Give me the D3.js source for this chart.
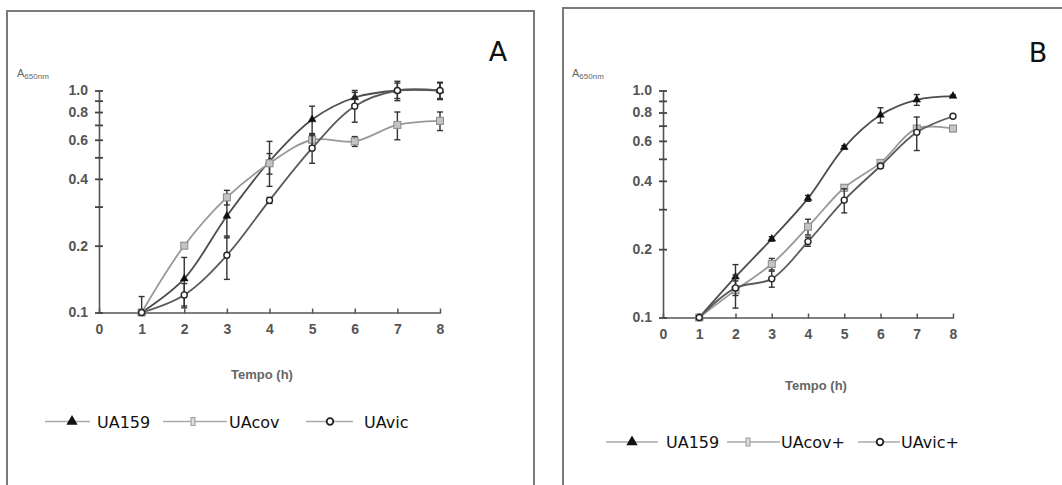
<!DOCTYPE html>
<html>
<head>
<meta charset="utf-8">
<script src="https://cdn.jsdelivr.net/npm/d3@7/dist/d3.min.js"></script>
<style>
  html, body { margin: 0; padding: 0; background: #fff; }
  svg { display: block; }
</style>
</head>
<body>
<div id="chart"></div>
<script>
// time points (h) and axis ticks
const hours = [1, 2, 3, 4, 5, 6, 7, 8];
const xTicks = [0, 1, 2, 3, 4, 5, 6, 7, 8];
const yTicks = [0.1, 0.2, 0.3, 0.4, 0.5, 0.6, 0.7, 0.8, 0.9, 1.0];
const yTickLabels = [0.1, 0.2, 0.4, 0.6, 0.8, 1.0];

// panel A
const seriesNamesA = ['UA159', 'UAcov', 'UAvic'];
const ua159A = [0.1, 0.142, 0.272, 0.48, 0.74, 0.93, 1.0, 1.0];
const ua159AErr = [0, 0.035, 0.055, 0.11, 0.11, 0.07, 0.08, 0.08];
const uacovA = [0.1, 0.2, 0.33, 0.47, 0.6, 0.59, 0.7, 0.73];
const uacovAErr = [0.018, 0.005, 0.025, 0.05, 0.04, 0.03, 0.1, 0.07];
const uavicA = [0.1, 0.12, 0.181, 0.32, 0.55, 0.85, 1.0, 1.0];
const uavicAErr = [0, 0.015, 0.04, 0.01, 0.08, 0.13, 0.1, 0.09];

// panel B
const seriesNamesB = ['UA159', 'UAcov+', 'UAvic+'];
const ua159B = [0.1, 0.151, 0.222, 0.335, 0.562, 0.78, 0.91, 0.945];
const ua159BErr = [0, 0.02, 0.005, 0.01, 0.01, 0.06, 0.05, 0.01];
const uacovB = [0.1, 0.132, 0.172, 0.251, 0.373, 0.48, 0.68, 0.68];
const uacovBErr = [0, 0.022, 0.01, 0.02, 0.01, 0.01, 0.02, 0.02];
const uavicB = [0.1, 0.135, 0.148, 0.216, 0.329, 0.465, 0.654, 0.77];
const uavicBErr = [0, 0.01, 0.012, 0.01, 0.04, 0.01, 0.11, 0.01];

class GrowthPanel {
    constructor(svg, opts) {
        this.svg = svg;
        this.opts = opts;
        this.g = svg.append('g').attr('class', 'panel');
        this.styles = [
            { marker: 'triangle', line: '#4d4d4d', fill: '#111', stroke: '#111' },
            { marker: 'square', line: '#999', fill: '#c4c4c4', stroke: '#8a8a8a' },
            { marker: 'circle', line: '#5a5a5a', fill: '#fff', stroke: '#222' }
        ];
    }

    draw(names, values, errors) {
        const o = this.opts;
        this.x = d3.scaleLinear().domain([0, 8]).range([o.x0, o.x1]);
        this.y = d3.scaleLog().domain([0.1, 1.0]).range([o.yBottom, o.yTop]);

        this.drawFrame();
        this.drawAxes();
        values.forEach((vals, i) => this.drawSeries(vals, errors[i], this.styles[i]));
        this.drawLegend(names);
    }

    drawFrame() {
        const o = this.opts;
        this.g.append('rect')
            .attr('x', o.box.x).attr('y', o.box.y)
            .attr('width', o.box.w).attr('height', o.box.h)
            .attr('fill', 'none')
            .attr('stroke', '#7a7a7a')
            .attr('stroke-width', 2);

        this.g.append('text')
            .attr('x', o.letter.x).attr('y', o.letter.y)
            .attr('text-anchor', 'middle')
            .style('font-family', 'DejaVu Sans, sans-serif')
            .style('font-size', '27px')
            .attr('fill', '#111')
            .text(o.letter.text);

        const yl = this.g.append('text')
            .attr('x', o.yLabel.x).attr('y', o.yLabel.y)
            .style('font-family', 'Liberation Sans, Arial, sans-serif')
            .attr('fill', '#666');
        yl.append('tspan').style('font-size', '11px').text('A');
        yl.append('tspan').attr('dy', 2).style('font-size', '8px').text('650nm');

        this.g.append('text')
            .attr('x', o.xLabel.x).attr('y', o.xLabel.y)
            .attr('text-anchor', 'middle')
            .style('font-family', 'Liberation Sans Narrow, Liberation Sans, Arial, sans-serif')
            .style('font-size', '13px')
            .style('font-weight', 'bold')
            .attr('fill', '#666')
            .text('Tempo (h)');
    }

    drawAxes() {
        const o = this.opts;
        const xAxis = d3.axisBottom(this.x)
            .tickValues(xTicks)
            .tickSize(0)
            .tickPadding(12)
            .tickFormat(d3.format('d'));
        const gx = this.g.append('g')
            .attr('transform', `translate(0,${o.yBottom})`)
            .call(xAxis);
        gx.select('.domain').attr('stroke', '#555').attr('stroke-width', 1.6);
        gx.selectAll('.tick').append('line')
            .attr('y1', -4).attr('y2', 1)
            .attr('stroke', '#555').attr('stroke-width', 1.5);

        const yAxis = d3.axisLeft(this.y)
            .tickValues(yTicks)
            .tickSize(0)
            .tickPadding(11)
            .tickFormat(d => yTickLabels.includes(d) ? d3.format('.1f')(d) : '');
        const gy = this.g.append('g')
            .attr('transform', `translate(${o.x0},0)`)
            .call(yAxis);
        gy.select('.domain').attr('stroke', '#555').attr('stroke-width', 1.6);
        gy.selectAll('.tick').append('line')
            .attr('x1', -4).attr('x2', 4)
            .attr('stroke', '#444').attr('stroke-width', 1.8);

        [gx, gy].forEach(ax => ax.selectAll('text')
            .style('font-family', 'Liberation Sans Narrow, Liberation Sans, Arial, sans-serif')
            .style('font-size', '14px')
            .style('font-weight', 'bold')
            .attr('fill', '#555'));
    }

    drawSeries(vals, errs, st) {
        const pts = hours.map((h, i) => ({ h, v: vals[i], e: errs[i] }));
        const line = d3.line()
            .x(d => this.x(d.h))
            .y(d => this.y(d.v))
            .curve(d3.curveCatmullRom.alpha(0.5));

        this.g.append('path')
            .datum(pts)
            .attr('d', line)
            .attr('fill', 'none')
            .attr('stroke', st.line)
            .attr('stroke-width', 1.8);

        const eb = this.g.append('g').selectAll('g')
            .data(pts.filter(d => d.e > 0))
            .enter().append('g')
            .attr('stroke', '#333')
            .attr('stroke-width', 1.4);
        eb.append('line')
            .attr('x1', d => this.x(d.h)).attr('x2', d => this.x(d.h))
            .attr('y1', d => this.y(d.v + d.e))
            .attr('y2', d => this.y(Math.max(0.1, d.v - d.e)));
        [1, -1].forEach(sign => {
            eb.append('line')
                .attr('x1', d => this.x(d.h) - 3).attr('x2', d => this.x(d.h) + 3)
                .attr('y1', d => this.y(Math.max(0.1, d.v + sign * d.e)))
                .attr('y2', d => this.y(Math.max(0.1, d.v + sign * d.e)));
        });

        pts.forEach(d => this.marker(this.x(d.h), this.y(d.v), st));
    }

    marker(cx, cy, st) {
        if (st.marker === 'triangle') {
            this.g.append('path')
                .attr('d', d3.symbol(d3.symbolTriangle, 26)())
                .attr('transform', `translate(${cx},${cy})`)
                .attr('fill', st.fill).attr('stroke', st.stroke).attr('stroke-width', 0.5);
        } else if (st.marker === 'square') {
            this.g.append('rect')
                .attr('x', cx - 3.5).attr('y', cy - 3.5)
                .attr('width', 7).attr('height', 7)
                .attr('fill', st.fill).attr('stroke', st.stroke).attr('stroke-width', 1);
        } else {
            this.g.append('circle')
                .attr('cx', cx).attr('cy', cy).attr('r', 3)
                .attr('fill', st.fill).attr('stroke', st.stroke).attr('stroke-width', 1.4);
        }
    }

    drawLegend(names) {
        const o = this.opts;
        names.forEach((name, i) => {
            const it = o.legend.items[i];
            const st = this.styles[i];
            this.g.append('line')
                .attr('x1', it.x1).attr('x2', it.x2)
                .attr('y1', o.legend.y).attr('y2', o.legend.y)
                .attr('stroke', '#aaa').attr('stroke-width', 1.6);
            if (st.marker === 'square') {
                this.g.append('rect')
                    .attr('x', it.m - 2).attr('y', o.legend.y - 4)
                    .attr('width', 4).attr('height', 8)
                    .attr('fill', '#ddd').attr('stroke', '#999').attr('stroke-width', 1);
            } else if (st.marker === 'circle') {
                this.g.append('circle')
                    .attr('cx', it.m).attr('cy', o.legend.y).attr('r', 3.3)
                    .attr('fill', '#fff').attr('stroke', '#222').attr('stroke-width', 1.8);
            } else {
                this.g.append('path')
                    .attr('d', d3.symbol(d3.symbolTriangle, 55)())
                    .attr('transform', `translate(${it.m},${o.legend.y})`)
                    .attr('fill', '#111');
            }
            this.g.append('text')
                .attr('x', it.t).attr('y', o.legend.y + 6)
                .style('font-family', 'DejaVu Sans, Verdana, sans-serif')
                .style('font-size', '16px')
                .attr('fill', '#111')
                .text(name);
        });
    }
}

const svg = d3.select('#chart').append('svg')
    .attr('width', 1062)
    .attr('height', 485);

const panelA = new GrowthPanel(svg, {
    box: { x: 7, y: 11, w: 527, h: 485 },
    x0: 99, x1: 440, yBottom: 312.5, yTop: 90.5,
    letter: { x: 498, y: 61, text: 'A' },
    yLabel: { x: 17, y: 77 },
    xLabel: { x: 262, y: 379 },
    legend: {
        y: 421.5,
        items: [
            { x1: 45, x2: 90, m: 72, t: 97 },
            { x1: 163, x2: 227, m: 193, t: 229 },
            { x1: 306, x2: 353, m: 330, t: 364 }
        ]
    }
});
panelA.draw(seriesNamesA, [ua159A, uacovA, uavicA], [ua159AErr, uacovAErr, uavicAErr]);

const panelB = new GrowthPanel(svg, {
    box: { x: 563, y: 8, w: 520, h: 490 },
    x0: 663, x1: 953, yBottom: 317.5, yTop: 90.5,
    letter: { x: 1038, y: 62, text: 'B' },
    yLabel: { x: 572, y: 77 },
    xLabel: { x: 816, y: 390 },
    legend: {
        y: 442,
        items: [
            { x1: 606, x2: 658, m: 632, t: 666 },
            { x1: 727, x2: 780, m: 748, t: 781 },
            { x1: 858, x2: 900, m: 880, t: 901 }
        ]
    }
});
panelB.draw(seriesNamesB, [ua159B, uacovB, uavicB], [ua159BErr, uacovBErr, uavicBErr]);
</script>
</body>
</html>
